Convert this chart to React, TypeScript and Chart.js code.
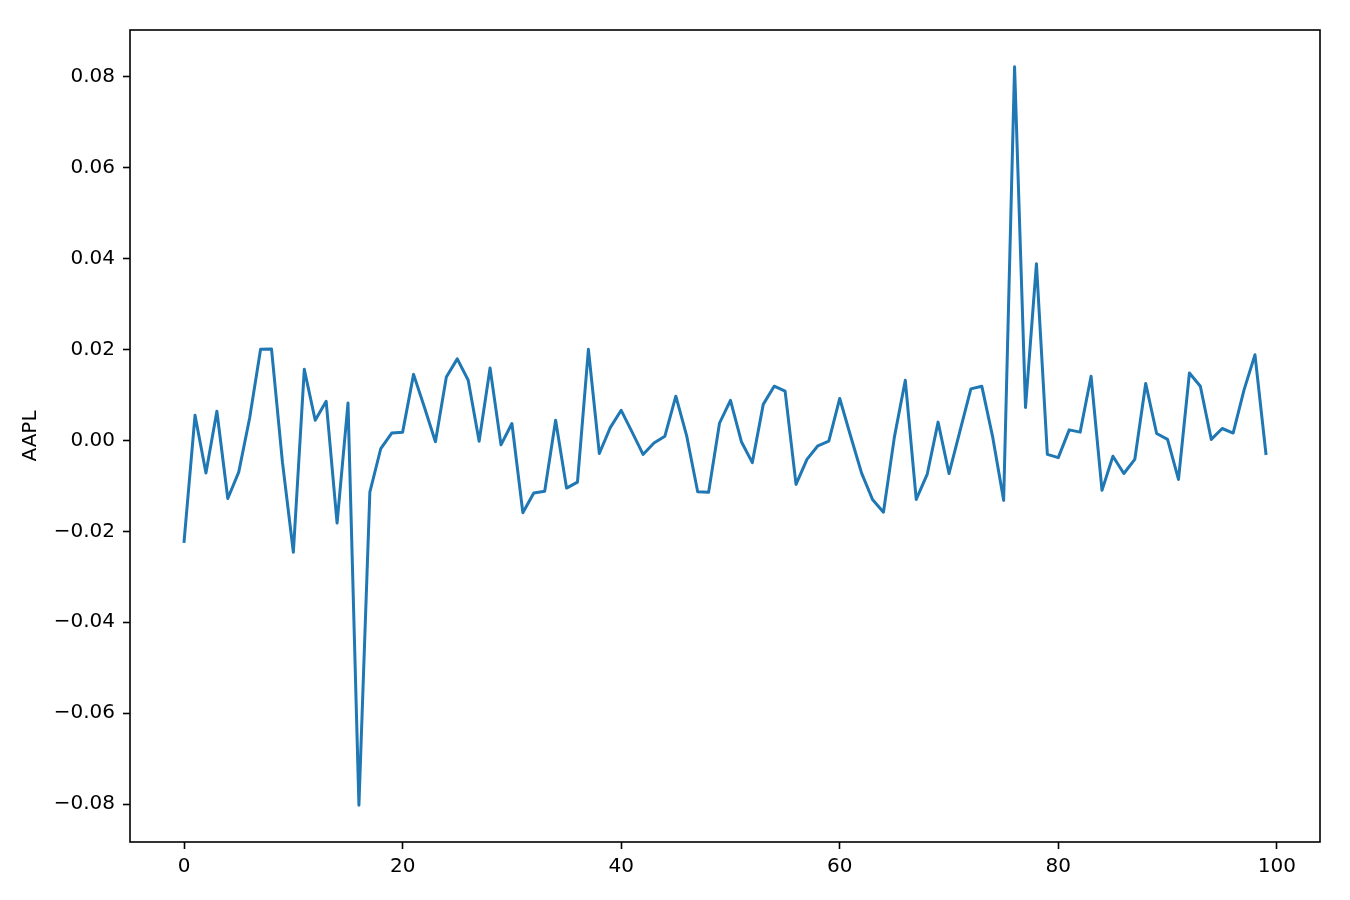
import React, { useEffect, useRef } from "react";
import { Chart, registerables } from "chart.js";

Chart.register(...registerables);

const SERIES_NAME = "AAPL";
const aaplReturns: number[] = [
  -0.0222, 0.0055, -0.0072, 0.0064, -0.0128, -0.007, 0.0049, 0.02, 0.0201, -0.0048,
  -0.0246, 0.0156, 0.0044, 0.0086, -0.0182, 0.0082, -0.0802, -0.0114, -0.0018, 0.0016,
  0.0018, 0.0145, 0.0072, -0.0003, 0.0139, 0.0179, 0.0132, -0.0002, 0.0159, -0.001,
  0.0037, -0.0159, -0.0116, -0.0112, 0.0044, -0.0105, -0.0092, 0.02, -0.0029, 0.0028,
  0.0066, 0.0018, -0.0031, -0.0006, 0.0009, 0.0097, 0.0009, -0.0113, -0.0114, 0.0038,
  0.0088, -0.0003, -0.0049, 0.0079, 0.0119, 0.0108, -0.0097, -0.0042, -0.0012, -0.0002,
  0.0092, 0.0009, -0.0072, -0.013, -0.0158, 0.0007, 0.0132, -0.013, -0.0075, 0.004,
  -0.0073, 0.002, 0.0113, 0.0119, 0.0007, -0.0132, 0.0821, 0.0072, 0.0388, -0.0031,
  -0.0038, 0.0023, 0.0018, 0.0141, -0.011, -0.0035, -0.0073, -0.0042, 0.0125, 0.0015,
  0.0002, -0.0086, 0.0148, 0.0119, 0.0002, 0.0026, 0.0016, 0.0111, 0.0188, -0.0029,
];
const xTicks: number[] = [0, 20, 40, 60, 80, 100];
const yTicks: number[] = [-0.08, -0.06, -0.04, -0.02, 0, 0.02, 0.04, 0.06, 0.08];
const X_MIN = -4.95;
const X_MAX = 103.95;
const Y_MIN = -0.0883;
const Y_MAX = 0.0902;

const FONT = "'DejaVu Sans', sans-serif";

const fmtY = (v: number) => {
  const s = Math.abs(v) < 1e-9 ? "0.00" : Number(v).toFixed(2);
  return s.replace("-", "\u2212");
};

const frame = {
  id: "frame",
  afterDraw(chart: any) {
    const { ctx, chartArea: a } = chart;
    ctx.save();
    ctx.strokeStyle = "#000";
    ctx.lineWidth = 1.6;
    ctx.strokeRect(a.left, a.top, a.right - a.left, a.bottom - a.top);
    ctx.restore();
  },
};

export default function App() {
  const ref = useRef<HTMLCanvasElement | null>(null);
  useEffect(() => {
    if (!ref.current) return;
    const chart = new Chart(ref.current, {
      type: "line",
      data: {
        datasets: [
          {
            label: SERIES_NAME,
            data: aaplReturns.map((y, i) => ({ x: i, y })),
            borderColor: "#1f77b4",
            borderWidth: 3,
            borderJoinStyle: "round",
            borderCapStyle: "square",
            pointRadius: 0,
            tension: 0,
            fill: false,
          },
        ],
      },
      options: {
        animation: false,
        responsive: false,
        devicePixelRatio: 1,
        layout: { padding: { top: 30, right: 30, left: 0, bottom: 0 } },
        plugins: { legend: { display: false }, tooltip: { enabled: false } },
        scales: {
          x: {
            type: "linear",
            min: X_MIN,
            max: X_MAX,
            afterBuildTicks: (s: any) => {
              s.ticks = xTicks.map((v) => ({ value: v }));
            },
            afterFit: (s: any) => {
              s.height = 58;
            },
            grid: {
              drawOnChartArea: false,
              drawTicks: true,
              tickLength: 7,
              tickWidth: 1.6,
              tickColor: "#000",
            },
            border: { display: false },
            ticks: {
              color: "#000",
              font: { family: FONT, size: 20 },
              padding: 6,
              maxRotation: 0,
              autoSkip: false,
              callback: (v: any) => String(v),
            },
          },
          y: {
            type: "linear",
            min: Y_MIN,
            max: Y_MAX,
            afterBuildTicks: (s: any) => {
              s.ticks = yTicks.map((v) => ({ value: v }));
            },
            afterFit: (s: any) => {
              s.width = 130;
            },
            grid: {
              drawOnChartArea: false,
              drawTicks: true,
              tickLength: 7,
              tickWidth: 1.6,
              tickColor: "#000",
            },
            border: { display: false },
            title: {
              display: true,
              text: SERIES_NAME,
              color: "#000",
              font: { family: FONT, size: 20 },
              padding: { top: 19, bottom: 0 },
            },
            ticks: {
              color: "#000",
              font: { family: FONT, size: 20 },
              padding: 8,
              autoSkip: false,
              callback: (v: any) => fmtY(Number(v)),
            },
          },
        },
      },
      plugins: [frame],
    } as any);
    return () => chart.destroy();
  }, []);
  return (
    <div style={{ position: "absolute", left: 0, top: 0, width: 1350, height: 900, background: "#fff" }}>
      <canvas ref={ref} width={1350} height={900} style={{ width: 1350, height: 900 }} />
    </div>
  );
}
